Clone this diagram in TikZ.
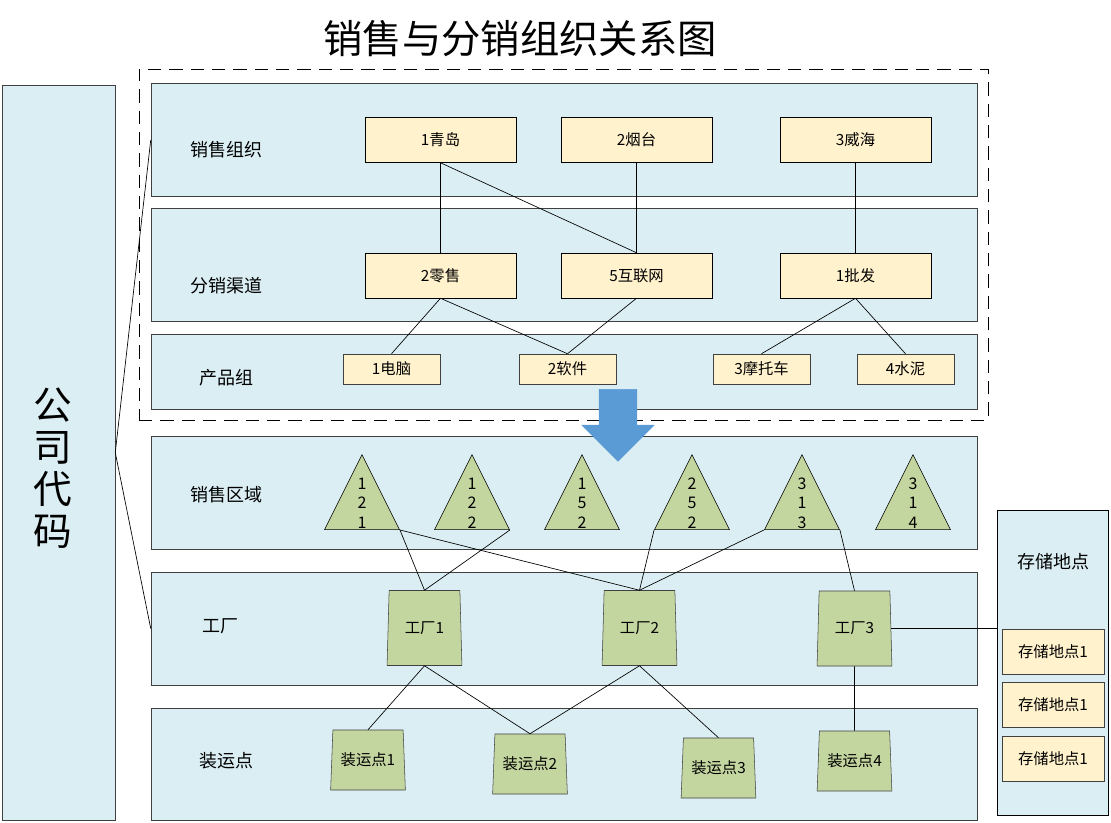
\documentclass[tikz,border=0pt]{standalone}
\usepackage{fontspec}
\setmainfont{Noto Sans CJK SC}
\usetikzlibrary{positioning, shapes.geometric, shapes.arrows}
\definecolor{band_fill}{HTML}{DAEEF3}
\definecolor{band_draw}{HTML}{404040}
\definecolor{box_fill}{HTML}{FFF2CC}
\definecolor{green_fill}{HTML}{C4D6A0}
\definecolor{arrow_fill}{HTML}{5B9BD5}

\begin{document}
\begin{tikzpicture}[
    % --- Global Settings ---
    % one unit is one pixel of the 1111 x 822 layout, y runs downwards
    x=0.75pt, y=-0.75pt,
    every node/.style={font=\fontsize{11.5}{14}\selectfont, inner sep=0pt}
  ]

  % --- Style Definitions ---
  \tikzset{
    % light blue horizontal bands
    band/.style={
      draw=band_draw,
      fill=band_fill,
      minimum width=619.5pt,
      minimum height=84.75pt
    },
    bandlabel/.style={font=\fontsize{13.5}{16}\selectfont},
    % yellow boxes for sales organisations and channels
    orgbox/.style={
      draw=black,
      fill=box_fill,
      minimum width=113.25pt,
      minimum height=33.75pt
    },
    % smaller yellow boxes for product groups
    prodbox/.style={
      draw=band_draw,
      fill=box_fill,
      minimum width=72.75pt,
      minimum height=22.5pt
    },
    % green triangles for sales areas
    area/.style={
      draw=black,
      fill=green_fill,
      isosceles triangle,
      shape border rotate=90,
      isosceles triangle stretches,
      minimum width=56.25pt,
      minimum height=56.25pt,
      anchor=apex
    },
    digits/.style={align=center, font=\fontsize{12}{14.5}\selectfont},
    % green trapeziums for plants and shipping points
    plant/.style={
      draw=band_draw,
      fill=green_fill,
      trapezium,
      trapezium left angle=85,
      trapezium right angle=85,
      trapezium stretches,
      minimum width=56.25pt,
      minimum height=56.25pt
    },
    ship/.style={
      plant,
      trapezium left angle=83,
      trapezium right angle=83,
      minimum height=45pt
    },
    % storage location boxes
    store/.style={
      draw=band_draw,
      fill=box_fill,
      minimum width=76.5pt,
      minimum height=33.75pt
    },
    link/.style={draw=black, line width=0.5pt}
  }

  \useasboundingbox (0,0) rectangle (1111,822);

  % --- Title ---
  \node[font=\fontsize{29.5}{32}\selectfont] (title) at (520,39) {销售与分销组织关系图};

  % --- Company code column ---
  \node[band, minimum width=84.75pt, minimum height=551.25pt] (company) at (58.5,452.5) {};
  \node[align=center, font=\fontsize{29}{31.5}\selectfont] (companytext) at (53,468) {公\\司\\代\\码};

  % --- Dashed frame round the upper three bands ---
  \node[draw=black, dash pattern=on 10pt off 6pt, minimum width=636.75pt, minimum height=263.25pt] (frame) at (563.5,244.5) {};

  % --- Bands ---
  \node[band] (orgband) at (564,140) {};
  \node[band] (chanband) at (564,264.5) {};
  \node[band, minimum height=56.25pt] (prodband) at (564,371.5) {};
  \node[band] (areaband) at (564,492.5) {};
  \node[band] (plantband) at (564,628.5) {};
  \node[band, minimum height=84pt] (shipband) at (564,764) {};

  \node[bandlabel] (orglabel) at (226,150) {销售组织};
  \node[bandlabel] (chanlabel) at (226,286) {分销渠道};
  \node[bandlabel] (prodlabel) at (226,378) {产品组};
  \node[bandlabel] (arealabel) at (226,495) {销售区域};
  \node[bandlabel] (plantlabel) at (220,626) {工厂};
  \node[bandlabel] (shiplabel) at (226,761) {装运点};

  % --- Sales organisations ---
  \node[orgbox] (qingdao) at (440.5,140) {1青岛};
  \node[orgbox] (yantai) at (636.5,140) {2烟台};
  \node[orgbox] (weihai) at (855.5,140) {3威海};

  % --- Distribution channels ---
  \node[orgbox] (retail) at (440.5,275.5) {2零售};
  \node[orgbox] (internet) at (636.5,275.5) {5互联网};
  \node[orgbox] (wholesale) at (855.5,275.5) {1批发};

  % --- Product groups ---
  \node[prodbox] (computer) at (391.5,369) {1电脑};
  \node[prodbox] (software) at (567.5,369) {2软件};
  \node[prodbox] (motorbike) at (761.5,369) {3摩托车};
  \node[prodbox] (cement) at (905.5,369) {4水泥};

  % --- Big arrow down to the sales areas ---
  \node[single arrow, draw=arrow_fill, fill=arrow_fill, shape border rotate=270,
        minimum width=54pt, single arrow head extend=13pt,
        single arrow head indent=0pt, minimum height=54pt,
        inner sep=0pt, anchor=tail] (down) at (618,389) {\phantom{\rule{27.75pt}{1pt}}};

  % --- Sales areas ---
  \foreach \name/\x/\txt in {a121/362/1\\2\\1, a122/472/1\\2\\2, a152/582/1\\5\\2,
                             a252/692/2\\5\\2, a313/802/3\\1\\3, a314/913/3\\1\\4} {
    \node[area] (\name) at (\x,454) {};
    \node[digits] at (\x,503) {\txt};
  }

  % --- Plants ---
  \node[plant] (plant1) at (424.5,628) {工厂1};
  \node[plant] (plant2) at (639.5,628) {工厂2};
  \node[plant] (plant3) at (854.5,628.5) {工厂3};

  % --- Shipping points ---
  \node[ship] (ship1) at (368,760) {装运点1};
  \node[ship] (ship2) at (530,764) {装运点2};
  \node[ship] (ship3) at (718.5,768) {装运点3};
  \node[ship] (ship4) at (854.5,761) {装运点4};

  % --- Storage locations ---
  \node[band, draw=black, minimum width=83.25pt, minimum height=228.75pt] (storage) at (1052.5,662.5) {};
  \node[bandlabel] (storagelabel) at (1053,562) {存储地点};
  \node[store] (store1) at (1053,651.5) {存储地点1};
  \node[store] (store2) at (1053,705) {存储地点1};
  \node[store] (store3) at (1053,758.5) {存储地点1};

  % --- Connections ---
  \draw[link] (company.east) -- (orgband.west);
  \draw[link] (company.east) -- (plantband.west);

  \draw[link] (qingdao.south) -- (retail.north);
  \draw[link] (qingdao.south) -- (internet.north);
  \draw[link] (yantai.south) -- (internet.north);
  \draw[link] (weihai.south) -- (wholesale.north);

  \draw[link] (retail.south) -- (computer.north);
  \draw[link] (retail.south) -- (software.north);
  \draw[link] (internet.south) -- (software.north);
  \draw[link] (wholesale.south) -- (motorbike.north);
  \draw[link] (wholesale.south) -- (cement.north);

  \draw[link] (a121.right corner) -- (plant1.north);
  \draw[link] (a121.right corner) -- (plant2.north);
  \draw[link] (a122.right corner) -- (plant1.north);
  \draw[link] (a252.left corner) -- (plant2.north);
  \draw[link] (a313.left corner) -- (plant2.north);
  \draw[link] (a313.right corner) -- (plant3.north);

  \draw[link] (plant1.south) -- (ship1.north);
  \draw[link] (plant1.south) -- (ship2.north);
  \draw[link] (plant2.south) -- (ship2.north);
  \draw[link] (plant2.south) -- (ship3.north);
  \draw[link] (plant3.south) -- (ship4.north);
  \draw[link] (plant3.east) -- (plant3.east -| storage.west);

\end{tikzpicture}
\end{document}
